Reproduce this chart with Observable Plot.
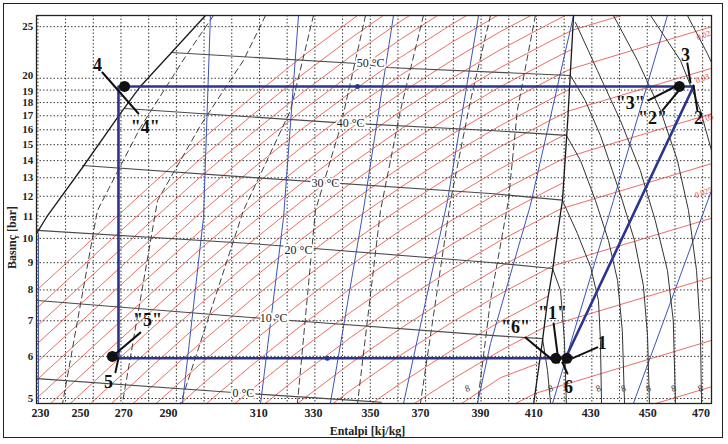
<!DOCTYPE html>
<html><head><meta charset="utf-8">
<script src="https://cdn.jsdelivr.net/npm/d3@7"></script>
<script src="https://cdn.jsdelivr.net/npm/@observablehq/plot@0.6"></script>
<style>
body{margin:0;background:#fff;}
#wrap{position:relative;width:728px;height:444px;}
#border{position:absolute;left:3px;top:3px;width:718px;height:433px;border:1.5px solid #222;pointer-events:none;}
</style></head><body><div id="wrap"><div id="border"></div></div>
<script>
// ---------- axes ----------
const hDomain = [229.5, 473.2];
const pDomain = [4.893, 26.24];
const gridH = [230,240,250,260,270,280,290,300,310,320,330,340,350,360,370,380,390,400,410,420,430,440,450,460,470];
const gridP = [5,6,7,8,9,10,11,12,13,14,15,16,17,18,19,20,25];
const xTickLabels = ["230","250","270","290","310","330","350","370","390","410","430","450","470"];
const xTickPos = [230.9,245.4,261.0,277.2,309.7,329.5,350.1,368.1,389.8,409.0,429.6,450.2,469.4];
const yTickLabels = ["5","6","7","8","9","10","11","12","13","14","15","16","17","18","19","20","25"];
const yTickNudge = [0,0,0,0,0,0,0,0,0,0,0,0,0,0,1.5,-2.5,0];

// ---------- saturation dome ----------
const satLiquid = [[229.5,10.21],[233.5,11.04],[246.1,13.59],[259.8,17.17],[267.0,19.30],[290.5,26.24]];
const dewLine = [[409.0,4.893],[412.2,6.43],[414.0,7.64],[415.8,8.70],[417.6,10.21],[419.4,11.8],[421.3,16.7],[423.4,26.24]];

// ---------- two-phase isotherms ----------
const isoNames = ["50 °C","40 °C","30 °C","20 °C","10 °C","0 °C"];
const iso50 = [[278.2,22.36],[345.4,21.32],[356.2,20.95],[422.3,20.24]];
const iso40 = [[261.3,17.54],[336.7,16.52],[393.4,15.95],[420.8,15.62]];
const iso30 = [[246.1,13.71],[306.8,13.02],[393.4,12.14],[419.4,11.8]];
const iso20 = [[229.8,10.35],[306.8,9.78],[393.4,9.01],[415.8,8.78]];
const iso10 = [[229.8,7.64],[306.8,7.10],[393.4,6.57],[412.2,6.48]];
const iso0  = [[229.8,5.45],[300.6,5.13],[344.0,4.96],[354.0,4.92]];
const isoLabelH = [350.1,342.9,333.8,324.1,315.1,304.2];
const isoLabelP = [21.32,16.44,12.68,9.49,7.07,5.11];

// ---------- superheated isotherms ----------
const sh10 = [[412.2,6.48],[414.0,5.64],[415.1,4.893]];
const sh20 = [[415.8,8.78],[418.7,7.98],[420.1,6.43],[420.8,4.893]];
const sh30 = [[419.4,11.78],[424.8,10.21],[429.6,8.82],[432.4,7.64],[433.1,6.43],[433.5,4.893]];
const sh40 = [[420.8,15.62],[425.9,14.01],[431.3,11.78],[436.0,9.91],[439.3,8.33],[441.0,6.71],[441.8,4.893]];
const sh50 = [[422.3,20.24],[427.6,18.17],[433.1,15.61],[437.4,13.42],[441.0,11.78],[445.4,9.91],[448.6,8.16],[450.1,6.57],[450.8,4.893]];
const sh60 = [[424.1,25.46],[432.0,20.68],[440.3,16.66],[447.5,13.42],[452.9,10.80],[457.3,8.70],[459.4,7.01],[460.2,4.893]];
const sh70 = [[437.8,26.24],[446.5,21.6],[454.8,17.40],[460.9,14.01],[464.9,11.28],[467.8,8.70],[469.2,6.71],[469.6,4.893]];
const sh80 = [[451.2,26.24],[462.0,21.6],[469.2,17.40],[473.2,14.63]];
const sh90 = [[464.5,26.24],[471.7,22.26],[473.2,21.41]];
const smallMarkH = [385.1,415.1,432.4,441.4,450.4,459.5,469.2];

// ---------- quality lines (dashed) ----------
const q1 = [[293.4,26.24],[284.0,22.26],[267.0,16.16],[251.5,11.28],[238.9,4.893]];
const q2 = [[312.2,26.24],[304.2,21.6],[288.7,16.30],[273.2,11.78],[260.5,4.893]];
const q3 = [[329.5,26.24],[321.2,17.40],[304.2,11.28],[281.5,4.893]];
const q4 = [[348.3,26.24],[339.2,16.16],[330.2,11.28],[323.7,4.893]];
const q5 = [[369.2,26.24],[360.9,17.40],[353.7,11.28],[345.4,4.893]];
const q6 = [[393.4,26.24],[386.2,18.17],[379.0,11.78],[368.1,4.893]];
const q7 = [[409.6,26.24],[403.1,17.40],[399.9,11.78],[393.4,7.64],[388.7,4.893]];

// ---------- isentropes (blue) ----------
const s0 = [[230.2,10.21],[230.2,4.893]];
const s1 = [[292.3,26.24],[289.8,10.95],[282.2,4.893]];
const s2 = [[324.1,26.24],[318.7,10.95],[310.4,4.893]];
const s3 = [[358.4,26.24],[347.5,11.28],[335.6,4.893]];
const s4 = [[389.1,26.24],[377.9,11.78],[362.0,4.893]];
const s5 = [[423.4,26.24],[407.8,11.53],[393.4,6.34],[388.7,4.893]];
const s6 = [[457.3,26.24],[437.8,11.78],[415.8,4.893]];
const s7 = [[473.2,12.30],[445.0,4.893]];

// ---------- isochores (red) ----------
const v01 = [[229.5,7.98],[252.6,10.30],[270.7,12.57],[288.7,15.26],[306.8,18.34],[324.8,21.83],[345.4,26.24]];
const v02 = [[229.5,7.38],[252.6,9.53],[270.7,11.62],[288.7,14.11],[306.8,16.96],[324.8,20.19],[342.9,23.77],[354.7,26.24]];
const v03 = [[229.5,6.83],[252.6,8.81],[270.7,10.75],[288.7,13.05],[306.8,15.69],[324.8,18.67],[342.9,21.99],[360.9,25.58],[364.2,26.24]];
const v04 = [[229.5,6.32],[252.6,8.15],[270.7,9.95],[288.7,12.08],[306.8,14.52],[324.8,17.28],[342.9,20.34],[360.9,23.66],[374.3,26.24]];
const v05 = [[229.5,5.84],[252.6,7.54],[270.7,9.20],[288.7,11.17],[306.8,13.43],[324.8,15.98],[342.9,18.81],[360.9,21.89],[379.0,25.18],[384.8,26.24]];
const v06 = [[229.5,5.41],[252.6,6.98],[270.7,8.51],[288.7,10.33],[306.8,12.42],[324.8,14.78],[342.9,17.40],[360.9,20.25],[379.0,23.29],[395.9,26.24]];
const v07 = [[229.5,5.00],[252.6,6.45],[270.7,7.87],[288.7,9.56],[306.8,11.49],[324.8,13.67],[342.9,16.10],[360.9,18.73],[379.0,21.54],[397.0,24.48],[408.0,26.24]];
const v08 = [[234.6,4.893],[252.6,5.97],[270.7,7.28],[288.7,8.84],[306.8,10.63],[324.8,12.65],[342.9,14.89],[360.9,17.33],[379.0,19.93],[397.0,22.64],[415.1,25.39],[420.5,26.24]];
const v09 = [[241.7,4.893],[252.6,5.52],[270.7,6.74],[288.7,8.18],[306.8,9.83],[324.8,11.70],[342.9,13.78],[360.9,16.03],[379.0,18.43],[397.0,20.95],[415.1,23.49],[423.1,24.64],[440.7,26.24]];
const v10 = [[249.1,4.893],[252.6,5.09],[270.7,6.21],[288.7,7.53],[306.8,9.06],[324.8,10.78],[342.9,12.69],[360.9,14.76],[379.0,16.98],[397.0,19.29],[415.1,21.63],[422.7,22.65]];
const v11 = [[256.6,4.893],[270.7,5.72],[288.7,6.94],[306.8,8.34],[324.8,9.93],[342.9,11.69],[360.9,13.60],[379.0,15.64],[397.0,17.77],[415.1,19.93],[422.2,20.81],[473.2,24.99]];
const v12 = [[264.4,4.893],[270.7,5.24],[288.7,6.36],[306.8,7.65],[324.8,9.10],[342.9,10.72],[360.9,12.47],[379.0,14.34],[397.0,16.30],[415.1,18.27],[421.8,19.05]];
const v13 = [[272.7,4.893],[288.7,5.81],[306.8,6.98],[324.8,8.31],[342.9,9.79],[360.9,11.39],[379.0,13.10],[397.0,14.88],[415.1,16.69],[421.4,17.34],[473.2,20.88]];
const v14 = [[281.6,4.893],[288.7,5.28],[306.8,6.35],[324.8,7.56],[342.9,8.90],[360.9,10.35],[379.0,11.90],[397.0,13.53],[415.1,15.17],[420.9,15.72]];
const v15 = [[290.9,4.893],[306.8,5.75],[324.8,6.84],[342.9,8.05],[360.9,9.37],[379.0,10.78],[397.0,12.25],[415.1,13.73],[420.4,14.18],[473.2,17.15]];
const v16 = [[301.2,4.893],[306.8,5.18],[324.8,6.17],[342.9,7.26],[360.9,8.45],[379.0,9.71],[397.0,11.04],[415.1,12.38],[419.8,12.73]];
const v17 = [[312.1,4.893],[324.8,5.53],[342.9,6.51],[360.9,7.58],[379.0,8.72],[397.0,9.91],[415.1,11.11],[418.9,11.37],[473.2,13.82]];
const v18 = [[323.7,4.893],[342.9,5.82],[360.9,6.77],[379.0,7.79],[397.0,8.85],[415.1,9.93],[417.4,10.07]];
const v19 = [[336.6,4.893],[342.9,5.18],[360.9,6.03],[379.0,6.93],[397.0,7.87],[415.9,8.88],[473.2,10.91]];
const v20 = [[350.5,4.893],[360.9,5.34],[379.0,6.14],[397.0,6.98],[414.2,7.79]];
const v21 = [[365.9,4.893],[379.0,5.41],[397.0,6.15],[412.7,6.80],[473.2,8.45]];
const v22 = [[383.0,4.893],[397.0,5.47],[411.0,5.83]];
const v23 = [[402.5,4.893],[409.5,5.11],[473.2,6.43]];
const v24 = [[453.0,4.893],[473.2,5.26]];
const vLabels = ["0.02","0.03","0.05","0.025"];
const vLabelH = [470.3,469.9,471.4,470.3];
const vLabelP = [24.07,19.98,16.80,12.20];

// ---------- refrigeration cycle ----------
const cycle = [[258.0,5.95],[420.5,5.95],[466.7,19.3],[259.1,19.3],[259.1,5.95]];
const cycleMarkH = [334.5,345.4];
const cycleMarkP = [5.95,19.3];
const stateH = [261.3,461.6,256.9,417.0,421.0];
const stateP = [19.3,19.3,6.0,5.95,5.95];
const labelText = ["4","\"4\"","3","\"3\"","\"2\"","2","\"1\"","\"6\"","1","6","\"5\"","5"];
const labelH = [251.5,268.8,463.8,443.9,451.9,468.5,415.8,402.4,433.8,421.6,269.6,255.5];
const labelP = [21.14,16.16,22.07,17.93,16.80,16.80,7.22,6.80,6.34,5.24,7.01,5.36];
const leader4 = [[253.3,20.5],[266.3,17.17]];
const leader3 = [[464.5,21.32],[465.6,19.64]];
const leaderQ3 = [[450.4,18.17],[460.9,19.38]];
const leaderQ2 = [[455.5,17.40],[462.0,19.13]];
const leader2 = [[466.7,19.38],[468.1,17.40]];
const leaderQ1 = [[416.2,6.92],[418.0,5.84]];
const leaderQ6 = [[406.0,6.51],[416.9,5.84]];
const leader1 = [[432.0,6.24],[419.4,5.84]];
const leader6 = [[421.2,5.57],[419.4,5.84]];
const leaderQ5 = [[267.0,6.65],[257.3,6.02]];
const leader5 = [[258.0,5.60],[259.1,5.95]];

// ---------- build ----------
const flat = lines => lines.flatMap((pts,i)=>pts.map(([h,p])=>({h,p,id:i})));
const reds = flat([v01,v02,v03,v04,v05,v06,v07,v08,v09,v10,v11,v12,v13,v14,v15,v16,v17,v18,v19,v20,v21,v22,v23,v24]);
const dashed = flat([q1,q2,q3,q4,q5,q6,q7]);
const blues = flat([s0,s1,s2,s3,s4,s5,s6,s7]);
const isos = flat([iso50,iso40,iso30,iso20,iso10,iso0]);
const shIsos = flat([sh10,sh20,sh30,sh40,sh50,sh60,sh70,sh80,sh90]);
const dome = flat([satLiquid,dewLine]);
const leaders = flat([leader4,leader3,leaderQ3,leaderQ2,leader2,leaderQ1,leaderQ6,leader1,leader6,leaderQ5,leader5]);
const yTicks = yTickLabels.map((t,i)=>({t, p: +t, nudge: yTickNudge[i]}));
const serif = "'Liberation Serif','DejaVu Serif',serif";

const chart = Plot.plot({
  width: 728, height: 444,
  marginTop: 15, marginBottom: 41, marginLeft: 36, marginRight: 17,
  x: {domain: hDomain, axis: null},
  y: {type: "log", domain: pDomain, axis: null},
  style: {fontFamily: serif, background: "white", overflow: "visible"},
  marks: [
    Plot.ruleX(gridH, {x: d=>d, stroke: "#222", strokeWidth: 0.9, strokeDasharray: "1.5,2"}),
    Plot.ruleY(gridP, {y: d=>d, stroke: "#222", strokeWidth: 0.9, strokeDasharray: "1.5,2"}),
    Plot.line(reds, {x: "h", y: "p", z: "id", stroke: "#e5483e", strokeWidth: 0.8}),
    Plot.line(dashed, {x: "h", y: "p", z: "id", stroke: "#2a2a2a", strokeWidth: 0.9, strokeDasharray: "6,4"}),
    Plot.line(blues, {x: "h", y: "p", z: "id", stroke: "#3e54b8", strokeWidth: 1}),
    Plot.line(isos, {x: "h", y: "p", z: "id", stroke: "#4a4a4a", strokeWidth: 1.1}),
    Plot.line(shIsos, {x: "h", y: "p", z: "id", stroke: "#333", strokeWidth: 1}),
    Plot.line(dome, {x: "h", y: "p", z: "id", stroke: "#1a1a1a", strokeWidth: 1.3}),
    Plot.text(isoNames, {x: (d,i)=>isoLabelH[i], y: (d,i)=>isoLabelP[i], text: d=>d, fontSize: 12, fill: "#222", stroke: "white", strokeWidth: 4, paintOrder: "stroke"}),
    Plot.text(smallMarkH, {x: d=>d, y: 5.22, text: ()=>"8", fontSize: 9, fill: "#333", rotate: -20}),
    Plot.text(vLabels, {x: (d,i)=>vLabelH[i], y: (d,i)=>vLabelP[i], text: d=>d, fontSize: 8, fill: "#e5483e", rotate: -20}),
    Plot.line(cycle, {x: d=>d[0], y: d=>d[1], stroke: "#2b3591", strokeWidth: 2.6}),
    Plot.dot(cycleMarkH, {x: d=>d, y: (d,i)=>cycleMarkP[i], r: 2.5, fill: "#2b3591"}),
    Plot.line(leaders, {x: "h", y: "p", z: "id", stroke: "#111", strokeWidth: 2}),
    Plot.dot(stateH, {x: d=>d, y: (d,i)=>stateP[i], r: 5.5, fill: "#111"}),
    Plot.text(labelText, {x: (d,i)=>labelH[i], y: (d,i)=>labelP[i], text: d=>d, fontSize: 18, fontWeight: "bold", fill: "#111"}),
    Plot.frame({stroke: "#222", strokeWidth: 1.3}),
    Plot.text(xTickLabels, {x: (d,i)=>xTickPos[i], y: 4.686, text: d=>d, fontSize: 12, fontWeight: "bold", fill: "#222"}),
    ...yTicks.map(d=>Plot.text([d], {x: 228.3, y: "p", dy: d.nudge, text: "t", fontSize: 11, fontWeight: "bold", fill: "#222", textAnchor: "end"})),
    Plot.text(["Entalpi [kj/kg]"], {x: 349.0, y: 4.35, text: d=>d, fontSize: 12, fontWeight: "bold", fill: "#222"}),
    Plot.text(["Basınç [bar]"], {x: 220.8, y: 10.04, text: d=>d, fontSize: 12, fontWeight: "bold", fill: "#222", rotate: -90})
  ]
});
document.getElementById("wrap").appendChild(chart);
</script>
</body></html>
